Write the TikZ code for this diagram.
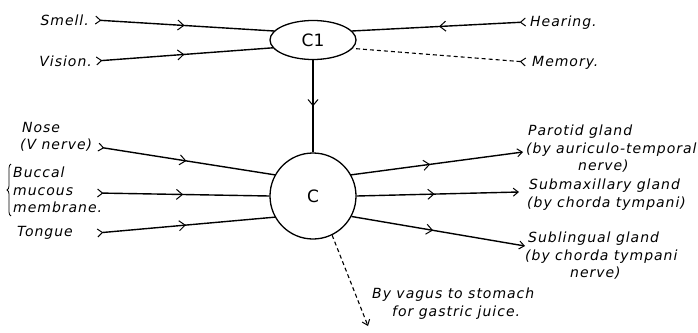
\documentclass[tikz,border=0pt]{standalone}
\usepackage{fontspec}
\setmainfont{DejaVu Sans}
\newfontfamily\lblfont{DejaVu Sans}[LetterSpace=7]
\usetikzlibrary{arrows.meta,decorations.markings,decorations.pathreplacing,shapes.geometric}
\begin{document}
\begin{tikzpicture}[x=1pt,y=-1pt,
  lbl/.style={font=\lblfont\fontsize{14}{17.5}\selectfont\itshape, inner sep=0pt, align=left},
  ctr/.style={draw, line width=1.3pt, inner sep=0pt, font=\fontsize{17}{17}\selectfont},
  nerve/.style={line width=1.4pt, postaction={decorate},
    decoration={markings, mark=at position #1 with {\arrow{Straight Barb[length=6pt,width=10pt,line width=1pt]}}}},
  nerve/.default=0.5,
  tailtip/.style={{Straight Barb[reversed,length=5pt,width=8pt,line width=1pt]}-},
  headtip/.style={-{Straight Barb[length=5pt,width=8pt,line width=1pt]}},
  dashline/.style={line width=1.1pt, dash pattern=on 4pt off 3pt}
]
\useasboundingbox (0,0) rectangle (698,332);

% centres
\node[ctr, ellipse, minimum width=86pt, minimum height=39pt] (C1) at (313,40) {C1};
\node[ctr, circle, minimum size=86pt] (C) at (313,196) {C};

% left labels (top)
\node[lbl, anchor=east] (smell) at (89,20) {Smell.};
\node[lbl, anchor=east] (vision) at (92,61) {Vision.};
\coordinate (smellin) at (95,20);
\coordinate (visionin) at (96,61);

% right labels (top)
\node[lbl, anchor=west] (hearing) at (530,23) {Hearing.};
\node[lbl, anchor=west] (memory) at (532,63) {Memory.};
\coordinate (hearingin) at (526,22);
\coordinate (memoryin) at (526,62);

% left labels (lower)
\node[lbl, anchor=north west] (nose) at (20,122) {\hspace*{2pt}Nose\\(V nerve)};
\node[lbl, anchor=west] (buccal) at (13,190) {Buccal\\mucous\\membrane.};
\node[lbl, anchor=west] (tongue) at (17,233) {Tongue};
\coordinate (nosein) at (98,147);
\coordinate (buccalin) at (97,193);
\coordinate (tonguein) at (97,233);
\draw[line width=0.8pt, decorate, decoration={brace, amplitude=4pt}] (11,216) -- (11,164);

% right labels (lower)
\node[lbl, anchor=north west] (parotid) at (526,125) {\hspace*{2pt}Parotid gland\\(by auriculo-temporal\\\hspace*{52pt}nerve)};
\node[lbl, anchor=north west] (submax) at (527,179) {\hspace*{2pt}Submaxillary gland\\(by chorda tympani)};
\node[lbl, anchor=north west] (subling) at (525,232) {\hspace*{3pt}Sublingual gland\\(by chorda tympani\\\hspace*{45pt}nerve)};
\coordinate (parotidout) at (523,152);
\coordinate (submaxout) at (519,192);
\coordinate (sublingout) at (525,246);

% vagus
\node[lbl, anchor=north west] (vagus) at (372,288) {By vagus to stomach\\\hspace*{20pt}for gastric juice.};
\coordinate (vagusout) at (368,326);

% connectors to C1
\draw[nerve, tailtip] (smellin) -- (C1.167);
\draw[nerve, tailtip] (visionin) -- (C1.191);
\draw[nerve, tailtip] (hearingin) -- (C1.13);
\draw[dashline, tailtip] (memoryin) -- (C1.348);
\draw[nerve] (C1.south) -- (C.north);

% connectors to C
\draw[nerve, tailtip] (nosein) -- (C.151);
\draw[nerve, tailtip] (buccalin) -- (C.180);
\draw[nerve, tailtip] (tonguein) -- (C.209);

% from C
\draw[nerve=0.46, headtip] (C.29) -- (parotidout);
\draw[nerve=0.48, headtip] (C.0) -- (submaxout);
\draw[nerve=0.47, headtip] (C.332) -- (sublingout);
\draw[dashline, headtip] (C.296) -- (vagusout);
\end{tikzpicture}
\end{document}
